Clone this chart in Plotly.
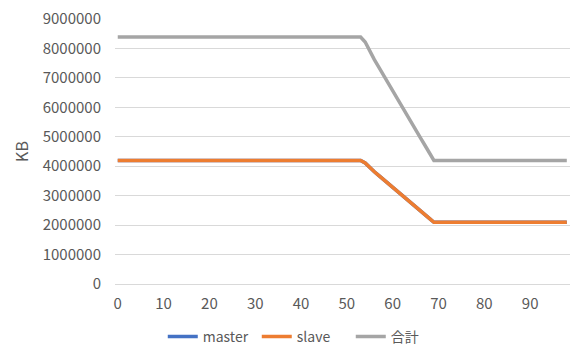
import plotly.graph_objects as go

# Memory usage (KB) per sample index for the two nodes and their total
x_index = list(range(99))

flat_before = [4194304] * 54          # samples 0..53
transition = [4110000, 3950000, 3810000, 3680000, 3545000, 3410000, 3280000,
              3145000, 3015000, 2885000, 2750000, 2620000, 2490000, 2360000,
              2228000]                # samples 54..68
flat_after = [2097152] * 30           # samples 69..98

master_kb = flat_before + transition + flat_after
slave_kb = flat_before + transition + flat_after
total_kb = [m + s for m, s in zip(master_kb, slave_kb)]

series_names = ["master", "slave", "合計"]
series_colors = ["#4472C4", "#ED7D31", "#A5A5A5"]

y_ticks = list(range(0, 9000001, 1000000))
x_ticks = list(range(0, 91, 10))

font_family = "Noto Sans CJK JP, Noto Sans, sans-serif"
text_color = "#595959"
grid_color = "#D9D9D9"

fig = go.Figure()
for name, values, color in zip(series_names, [master_kb, slave_kb, total_kb], series_colors):
    fig.add_trace(go.Scatter(
        x=x_index, y=values, name=name, mode="lines",
        line=dict(color=color, width=3.5),
    ))

fig.update_layout(
    width=571, height=347,
    margin=dict(l=115, r=1, t=19, b=63, autoexpand=False),
    paper_bgcolor="white", plot_bgcolor="white",
    font=dict(family=font_family, size=15, color=text_color),
    showlegend=True,
    legend=dict(
        orientation="h", xref="container", yref="paper",
        x=0.532, xanchor="center", y=-0.2, yanchor="middle",
        font=dict(size=14, color=text_color),
        itemwidth=30, entrywidth=49, entrywidthmode="pixels",
        borderwidth=0, bgcolor="rgba(0,0,0,0)",
    ),
)

fig.update_xaxes(
    range=[-0.6, 98.7],
    tickmode="array", tickvals=x_ticks, ticktext=[str(v) for v in x_ticks],
    showgrid=False, zeroline=False,
    showline=True, linecolor=grid_color, linewidth=1,
    ticks="outside", ticklen=6, tickcolor="rgba(0,0,0,0)",
)

fig.update_yaxes(
    range=[0, 9000000],
    tickmode="array", tickvals=y_ticks, ticktext=[str(v) for v in y_ticks],
    showgrid=True, gridcolor=grid_color, gridwidth=1,
    zeroline=False, showline=False,
    ticks="outside", ticklen=10, tickcolor="rgba(0,0,0,0)",
    title=dict(text="KB", font=dict(size=16, color=text_color), standoff=10),
)

fig.write_html("out.html")
